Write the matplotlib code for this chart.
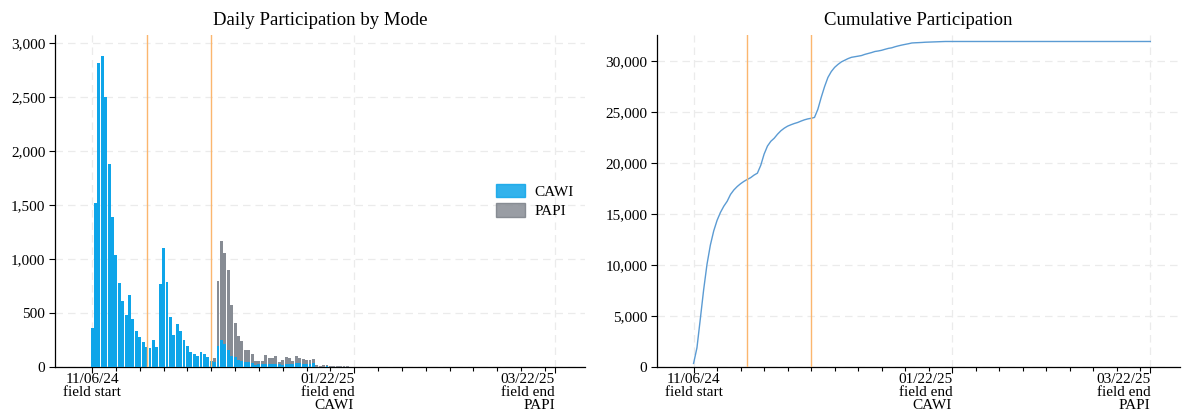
import numpy as np
import pandas as pd
import matplotlib
matplotlib.use("Agg")
import matplotlib.pyplot as plt
from matplotlib.patches import Patch
from matplotlib.ticker import FuncFormatter

plt.rcParams['font.family'] = ['Liberation Serif', 'DejaVu Serif']

# field dates
field_start = pd.Timestamp("2024-11-06")
field_end_cawi = pd.Timestamp("2025-01-22")
field_end_papi = pd.Timestamp("2025-03-22")
reminders = [pd.Timestamp("2024-11-22"), pd.Timestamp("2024-12-11")]

# daily completes per mode, one value per day from field start
cawi = [360, 1520, 2820, 2880, 2500, 1880, 1390, 1035, 775, 609,
        483, 671, 442, 335, 276, 230, 190, 174, 248, 190,
        766, 1100, 791, 467, 298, 400, 335, 254, 199, 137,
        122, 100, 137, 122, 91, 60, 44, 199, 252, 215,
        159, 106, 91, 67, 60, 44, 50, 36, 20, 25,
        25, 30, 28, 30, 28, 25, 22, 28, 30, 25,
        35, 35, 25, 25, 30, 40, 5, 5, 5, 10,
        3, 3, 3, 3, 3, 3]
papi = [0] * 36 + [41, 595, 912, 842, 743, 472, 321, 224, 185, 118,
                   112, 89, 37, 32, 35, 86, 60, 58, 78, 26,
                   45, 69, 58, 32, 71, 51, 53, 42, 34, 33,
                   15, 9, 12, 13, 9, 9, 9, 9, 9, 9]

days = pd.date_range(field_start, periods=len(cawi), freq="D")
cawi = np.array(cawi)
papi = np.array(papi)
cumulative = np.cumsum(cawi + papi)

# the cumulative line runs on flat until the PAPI field end
cum_dates = list(days) + [field_end_papi]
cum_values = list(cumulative) + [cumulative[-1]]

c_cawi = '#0ea5e9'
c_papi = '#878c94'
c_line = '#5b9bd3'
c_mark = '#fbb66e'
grid_kw = dict(color='#ebebeb', linestyle=(0, (6, 4)), linewidth=0.9)

fig = plt.figure(figsize=(11.85, 4.12), dpi=100)
ax1 = fig.add_axes([0.0464, 0.109, 0.447, 0.806])
ax2 = fig.add_axes([0.5544, 0.109, 0.441, 0.806])

# left: stacked daily bars
ax1.bar(days, cawi, width=0.85, color=c_cawi, linewidth=0, zorder=3)
ax1.bar(days, papi, bottom=cawi, width=0.85, color=c_papi, linewidth=0, zorder=3)
ax1.set_ylim(0, 3075)
ax1.set_yticks(range(0, 3001, 500))
ax1.set_title("Daily Participation by Mode", fontsize=13.5, pad=7)
handles = [Patch(facecolor=c_cawi, edgecolor=c_cawi, alpha=0.85, label="CAWI"),
           Patch(facecolor=c_papi, edgecolor='#7c8189', alpha=0.85, label="PAPI")]
ax1.legend(handles=handles, loc='center right', frameon=False, fontsize=11,
           handlelength=1.95, handleheight=0.95, handletextpad=0.6,
           labelspacing=0.3, borderaxespad=0.3)

# right: cumulative completes
ax2.plot(cum_dates, cum_values, color=c_line, linewidth=1, zorder=3)
ax2.set_ylim(0, 32550)
ax2.set_yticks(range(0, 30001, 5000))
ax2.set_title("Cumulative Participation", fontsize=13.5, pad=7)

date_labels = ["11/06/24\nfield start", "01/22/25\nfield end\nCAWI", "03/22/25\nfield end\nPAPI"]
major = [field_start, field_end_cawi, field_end_papi]
minor = pd.date_range(field_start, field_end_papi, freq="7D")

for ax in (ax1, ax2):
    for d in reminders:
        ax.axvline(d, color=c_mark, linewidth=1, zorder=4)
    ax.set_xlim(field_start - pd.Timedelta(days=10.9), field_end_papi + pd.Timedelta(days=8.7))
    ax.set_xticks(major)
    ax.set_xticklabels(date_labels, fontsize=11, linespacing=1.0)
    ax.set_xticks(minor, minor=True)
    ax.yaxis.set_major_formatter(FuncFormatter(lambda v, p: f"{int(v):,}"))
    ax.tick_params(axis='y', labelsize=11, length=4, width=0.8, pad=3)
    ax.tick_params(axis='x', which='major', length=4, width=0.8, pad=0.5)
    ax.tick_params(axis='x', which='minor', length=3, width=0.8)
    labels = ax.get_xticklabels()
    labels[0].set_horizontalalignment('center')
    labels[1].set_horizontalalignment('right')
    labels[2].set_horizontalalignment('right')
    ax.grid(True, which='major', **grid_kw)
    ax.set_axisbelow(True)
    ax.spines['top'].set_visible(False)
    ax.spines['right'].set_visible(False)
    ax.spines['left'].set_linewidth(0.9)
    ax.spines['bottom'].set_linewidth(0.9)

fig.savefig("out.png", dpi=100)
